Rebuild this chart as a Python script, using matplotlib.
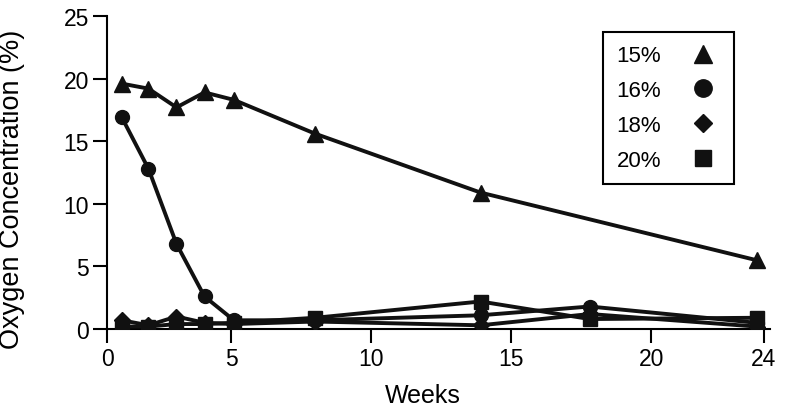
import matplotlib
matplotlib.use("Agg")
import matplotlib.pyplot as plt
from matplotlib.lines import Line2D

plt.rcParams['font.family'] = ['Liberation Sans', 'DejaVu Sans']

weeks_15 = [1.1, 2.05, 3.05, 4.05, 5.1, 8.0, 13.9, 23.75]
o2_15 = [19.6, 19.2, 17.7, 18.9, 18.3, 15.6, 10.9, 5.5]
weeks = [1.1, 2.05, 3.05, 4.05, 5.1, 8.0, 13.9, 17.8, 23.75]
o2_16 = [16.9, 12.8, 6.8, 2.6, 0.7, 0.7, 1.1, 1.8, 0.5]
o2_18 = [0.7, 0.3, 1.0, 0.5, 0.4, 0.6, 0.3, 1.2, 0.2]
o2_20 = [0.2, 0.2, 0.4, 0.4, 0.5, 0.9, 2.2, 0.8, 0.9]
labels = ['15%', '16%', '18%', '20%']
xtick_vals = [5, 10, 15, 20, 24]
ytick_vals = [0, 5, 10, 15, 20, 25]

fig = plt.figure(figsize=(7.87, 4.10), dpi=100)
ax = fig.add_axes([0.1363, 0.195, 0.978 - 0.1363, 0.9585 - 0.195])

c = '#111111'
lw = 2.8
ax.plot(weeks_15, o2_15, color=c, lw=lw, marker='^', ms=11, zorder=3)
ax.plot(weeks, o2_16, color=c, lw=lw, marker='o', ms=10, zorder=3)
ax.plot(weeks, o2_18, color=c, lw=lw, marker='D', ms=8, zorder=3)
ax.plot(weeks, o2_20, color=c, lw=lw, marker='s', ms=10, zorder=3)

x0 = 0.58
ax.set_xlim(x0, 24.22)
ax.set_ylim(0, 25)
ax.set_xticks([x0] + xtick_vals)
ax.set_xticklabels(['0'] + [str(v) for v in xtick_vals])
ax.set_yticks(ytick_vals)

for s in ['top', 'right']:
    ax.spines[s].set_visible(False)
for s in ['left', 'bottom']:
    ax.spines[s].set_linewidth(1.5)
    ax.spines[s].set_color('black')
ax.tick_params(axis='both', length=10, width=1.5, labelsize=16.5, pad=3, direction='out')

ax.set_xlabel('Weeks', fontsize=18)
ax.xaxis.set_label_coords(0.477, -0.172)
ax.set_ylabel('Oxygen Concentration (%)', fontsize=19.5)
ax.yaxis.set_label_coords(-0.124, 0.45)

handles = [Line2D([], [], color=c, marker=m, ms=s, linestyle='None')
           for m, s in zip(['^', 'o', 'D', 's'], [13, 12.5, 9, 12])]
leg = fig.legend(handles, labels, loc='upper left', bbox_to_anchor=(603 / 787, 1 - 33 / 410),
                 markerfirst=False, fontsize=16, frameon=True, fancybox=False,
                 handlelength=1.6, handletextpad=1.1, labelspacing=0.62,
                 borderpad=0.6, borderaxespad=0.0)
leg.get_frame().set_edgecolor('black')
leg.get_frame().set_linewidth(1.5)
leg.get_frame().set_alpha(None)

fig.savefig('out.png', dpi=100)
